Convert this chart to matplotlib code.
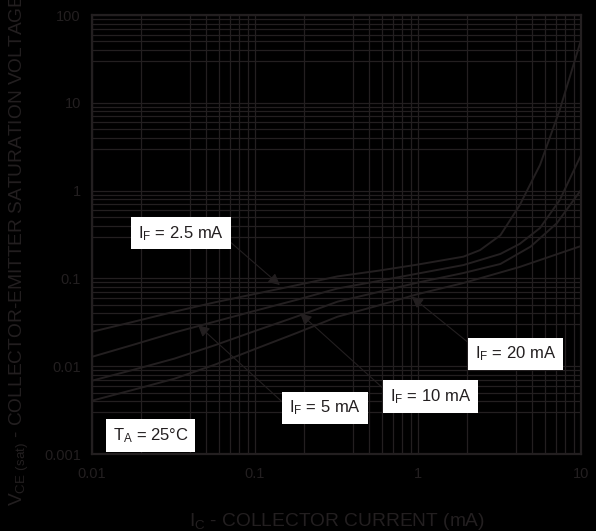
import numpy as np
import matplotlib
matplotlib.use("Agg")
import matplotlib.pyplot as plt
from matplotlib.ticker import FixedLocator, FixedFormatter

plt.rcParams['font.family'] = ['Liberation Sans', 'DejaVu Sans']

ink = '#231f20'

# collector current (mA) and VCE(sat) (V)
ic_25 = [0.01, 0.018, 0.032, 0.057, 0.1, 0.18, 0.32, 0.57, 1.0, 1.9, 2.4, 3.2, 4.2, 5.6, 7.4, 10]
vce_25 = [0.0247, 0.0321, 0.0418, 0.0535, 0.0666, 0.0837, 0.1054, 0.1224, 0.144, 0.177,
          0.21, 0.31, 0.68, 1.96, 8.3, 52]

ic_5 = [0.01, 0.018, 0.032, 0.057, 0.1, 0.18, 0.32, 0.57, 1.0, 1.9, 3.2, 4.2, 5.6, 7.4, 10]
vce_5 = [0.0128, 0.0176, 0.0242, 0.0323, 0.0428, 0.057, 0.0767, 0.0934, 0.1137, 0.142,
         0.19, 0.247, 0.375, 0.78, 2.54]

ic_10 = [0.01, 0.018, 0.032, 0.057, 0.1, 0.18, 0.32, 0.57, 1.0, 1.9, 3.2, 4.9, 7.1, 10]
vce_10 = [0.00684, 0.00912, 0.0122, 0.0174, 0.0252, 0.0368, 0.0543, 0.070, 0.0898, 0.1153,
          0.146, 0.23, 0.425, 1.02]

ic_20 = [0.01, 0.018, 0.032, 0.057, 0.1, 0.18, 0.32, 0.57, 1.0, 1.9, 4.2, 10]
vce_20 = [0.00405, 0.0054, 0.0072, 0.01045, 0.0157, 0.0239, 0.0366, 0.0491, 0.0664, 0.0887,
          0.135, 0.234]

x_ticks = [0.01, 0.1, 1, 10]
x_labels = ['0.01', '0.1', '1', '10']
y_ticks = [0.001, 0.01, 0.1, 1, 10, 100]
y_labels = ['0.001', '0.01', '0.1', '1', '10', '100']

fig = plt.figure(figsize=(5.96, 5.31), dpi=100, facecolor='black')
ax = fig.add_axes([0.1544, 0.145, 0.8205, 0.8267])
ax.set_facecolor('black')

for ic, vce in [(ic_25, vce_25), (ic_5, vce_5), (ic_10, vce_10), (ic_20, vce_20)]:
    ax.plot(ic, vce, color=ink, lw=1.4, zorder=3)

ax.set_xscale('log')
ax.set_yscale('log')
ax.set_xlim(0.01, 10)
ax.set_ylim(0.001, 100)

# grid: x has 2,4..9 per decade, y has 3..9 per decade
x_minor = [m * d for d in [0.01, 0.1, 1] for m in [2, 4, 5, 6, 7, 8, 9]]
y_minor = [m * d for d in [0.001, 0.01, 0.1, 1, 10] for m in [3, 4, 5, 6, 7, 8, 9]]
ax.xaxis.set_major_locator(FixedLocator(x_ticks))
ax.xaxis.set_major_formatter(FixedFormatter(x_labels))
ax.yaxis.set_major_locator(FixedLocator(y_ticks))
ax.yaxis.set_major_formatter(FixedFormatter(y_labels))
ax.xaxis.set_minor_locator(FixedLocator(x_minor))
ax.yaxis.set_minor_locator(FixedLocator(y_minor))
ax.xaxis.set_minor_formatter(FixedFormatter([]))
ax.yaxis.set_minor_formatter(FixedFormatter([]))
ax.grid(True, which='both', color=ink, lw=0.9)
ax.set_axisbelow(True)
ax.tick_params(which='both', length=0, colors=ink, labelsize=10.5)
ax.tick_params(axis='x', pad=9)
ax.tick_params(axis='y', pad=8)
for s in ax.spines.values():
    s.set_color(ink)
    s.set_linewidth(1.6)

ax.set_xlabel('$\\mathregular{I_C}$ - COLLECTOR CURRENT (mA)', color=ink, fontsize=13.8, labelpad=22)
ax.set_ylabel('$\\mathregular{V_{CE\\ (sat)}}$ - COLLECTOR-EMITTER SATURATION VOLTAGE (V)',
              color=ink, fontsize=13.8)
ax.yaxis.set_label_coords(-0.125, 0.5)

box = dict(boxstyle='square,pad=0.4', fc='white', ec='none')

# text, arrow tip, box centre, where the arrow leaves the box
notes = [
    ('$\\mathregular{I_F}$ = 2.5 mA', (0.142, 0.084), (0.0351, 0.325), (1.0, 0.34)),
    ('$\\mathregular{I_F}$ = 5 mA', (0.0447, 0.0294), (0.2686, 0.00334), (0.0, 0.5)),
    ('$\\mathregular{I_F}$ = 10 mA', (0.189, 0.040), (1.19, 0.00452), (0.0, 0.62)),
    ('$\\mathregular{I_F}$ = 20 mA', (0.914, 0.0619), (3.96, 0.01377), (0.0, 0.83)),
]
for txt, tip, pos, rel in notes:
    arrow = dict(arrowstyle='-|>', color=ink, lw=0.8, mutation_scale=17,
                 shrinkA=0, shrinkB=0, relpos=rel)
    ax.annotate(txt, xy=tip, xytext=pos, ha='center', va='center', fontsize=12,
                color=ink, bbox=box, arrowprops=arrow, zorder=5)

ax.text(0.0229, 0.001625, '$\\mathregular{T_A}$ = 25°C', ha='center', va='center',
        fontsize=12, color=ink, bbox=box, zorder=5)

fig.savefig('out.png', dpi=100, facecolor='black')
